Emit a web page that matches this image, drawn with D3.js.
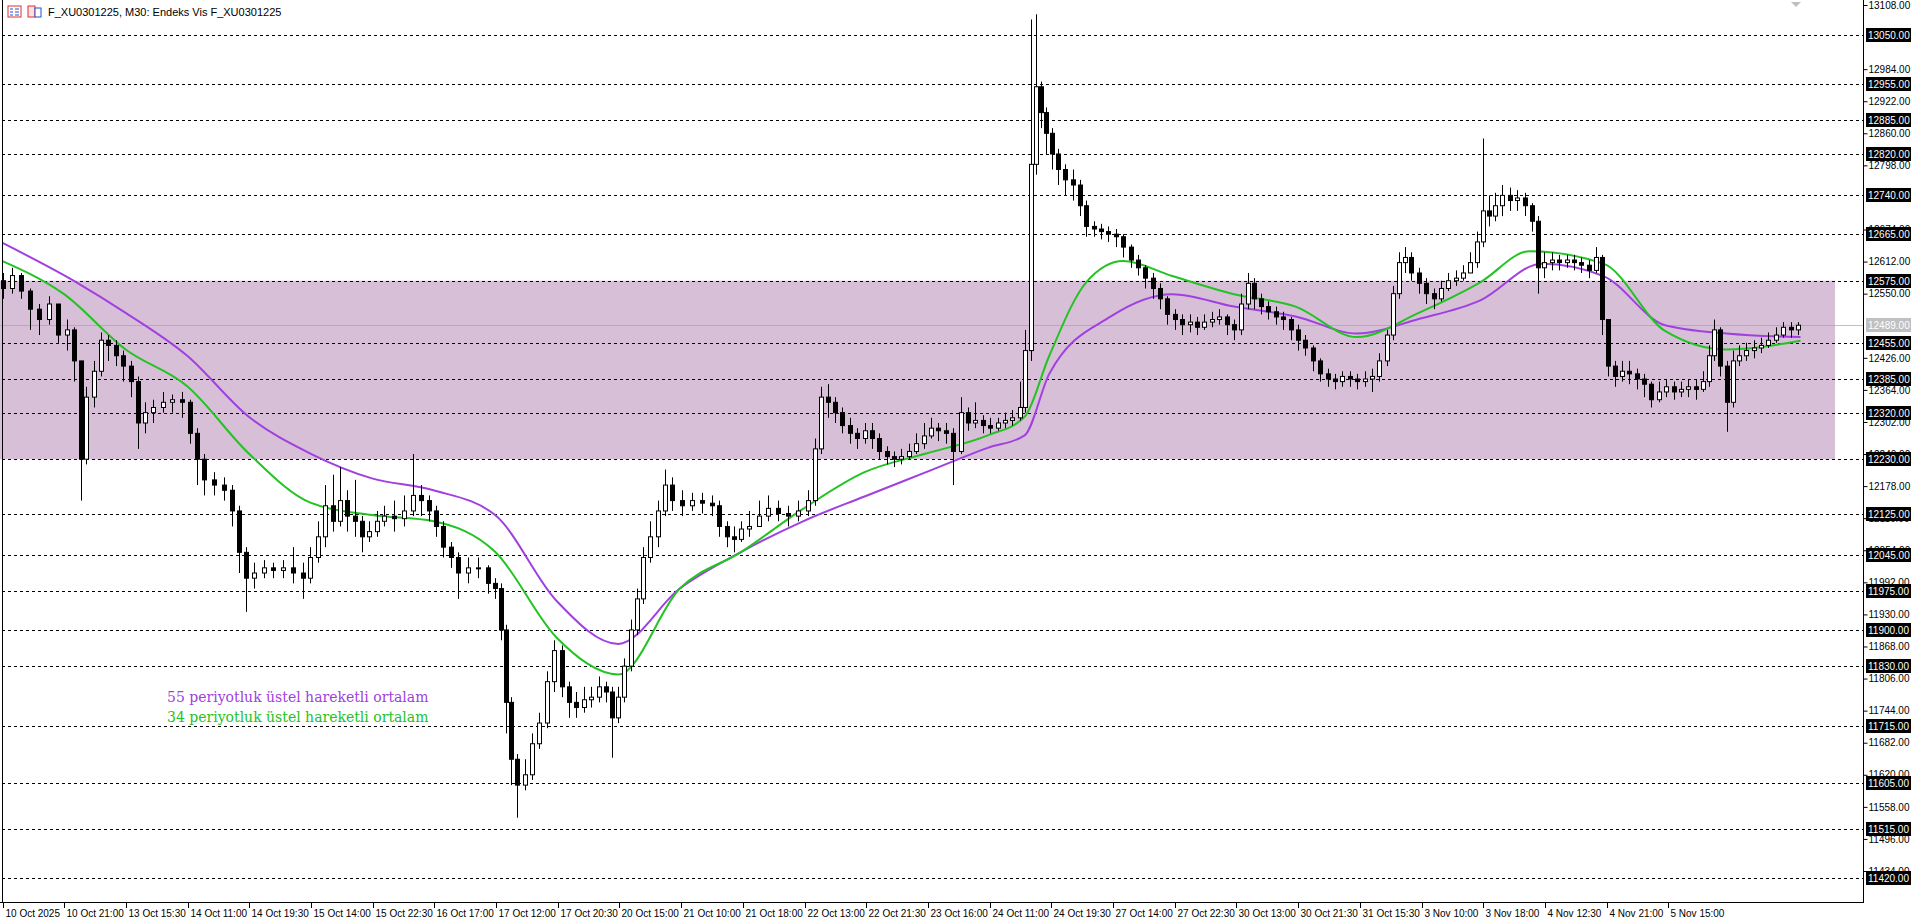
<!DOCTYPE html>
<html><head><meta charset="utf-8">
<script src="https://cdn.jsdelivr.net/npm/d3@7"></script>
<style>body{margin:0;background:#fff;overflow:hidden}svg{display:block}</style>
</head><body>
<script>
// bar time (arbitrary units, 50.1 units = 16 M30 bars)
const barTime=[0,8,15,22,30,38,45,52,58,64,68,74,80,86,92,98,104,110,116,122,130,138,146,152,158,164,172,180,186,192,198,204,212,220,228,236,244,250,256,262,268,274,280,286,292,298,304,310,318,326,333,340,346,352,358,364,370,378,386,394,400,405,409,413,418,424,430,436,442,448,454,460,466,472,478,484,490,495,500,505,510,515,520,526,532,538,544,552,560,568,576,582,588,594,600,606,614,622,630,638,646,654,660,665,670,676,682,688,694,700,706,712,718,724,730,736,742,748,754,760,766,772,778,784,790,796,802,808,814,820,826,830,835,839,843,847,852,857,863,869,875,880,886,892,898,904,910,916,922,928,934,940,946,952,958,964,970,976,982,988,994,1000,1006,1011,1016,1022,1028,1034,1040,1046,1052,1058,1064,1070,1076,1082,1088,1094,1100,1106,1112,1118,1124,1129,1134,1139,1144,1150,1156,1162,1168,1174,1180,1186,1192,1197,1202,1207,1212,1218,1224,1230,1236,1242,1247,1252,1258,1264,1270,1276,1282,1288,1294,1299,1304,1309,1315,1321,1327,1333,1339,1345,1351,1357,1363,1369,1375,1381,1386,1390,1395,1400,1405,1410,1416,1422,1428,1434,1440,1446,1452,1458];
const closes=[12560,12585,12555,12520,12500,12530,12470,12480,12420,12230,12350,12400,12460,12450,12430,12410,12380,12300,12320,12330,12340,12345,12340,12280,12230,12190,12180,12170,12130,12050,12000,12010,12020,12015,12020,12010,12000,12040,12080,12140,12110,12150,12120,12110,12080,12090,12110,12120,12115,12130,12160,12150,12130,12100,12060,12040,12010,12020,12020,11990,11980,11900,11760,11650,11600,11620,11680,11720,11800,11860,11790,11760,11750,11765,11770,11790,11780,11730,11770,11830,11900,11960,12040,12080,12130,12180,12150,12140,12150,12145,12140,12100,12080,12075,12095,12100,12120,12135,12125,12120,12130,12150,12250,12350,12340,12320,12295,12280,12270,12285,12270,12245,12235,12230,12235,12245,12260,12275,12290,12285,12280,12245,12320,12300,12305,12295,12290,12300,12305,12310,12330,12440,12800,12950,12900,12860,12820,12790,12770,12760,12720,12680,12675,12670,12665,12660,12640,12615,12600,12580,12560,12540,12510,12500,12490,12495,12485,12495,12500,12505,12490,12480,12530,12570,12540,12525,12515,12505,12500,12480,12460,12445,12420,12395,12385,12380,12390,12385,12380,12385,12390,12420,12470,12550,12610,12620,12590,12570,12550,12540,12560,12575,12580,12590,12610,12650,12710,12700,12720,12740,12730,12735,12720,12690,12600,12610,12615,12610,12615,12610,12605,12595,12620,12500,12410,12390,12400,12395,12385,12375,12345,12360,12370,12360,12365,12370,12365,12380,12430,12480,12410,12340,12420,12430,12440,12445,12450,12460,12470,12485,12480,12489];
const highs=[12590,12600,12590,12560,12530,12545,12530,12500,12485,12420,12370,12420,12475,12470,12460,12440,12420,12390,12340,12345,12360,12355,12360,12345,12290,12240,12205,12195,12180,12140,12060,12030,12035,12030,12035,12060,12030,12060,12110,12180,12200,12215,12170,12190,12120,12110,12130,12140,12150,12160,12240,12180,12160,12140,12110,12070,12050,12040,12040,12025,12000,11990,11910,11770,11660,11650,11700,11740,11820,11880,11870,11800,11780,11790,11790,11810,11800,11790,11790,11845,11920,11980,12060,12110,12150,12210,12195,12170,12165,12165,12160,12150,12110,12100,12110,12130,12150,12160,12150,12140,12150,12170,12270,12370,12375,12350,12330,12310,12290,12300,12300,12280,12255,12245,12250,12260,12280,12300,12310,12300,12300,12290,12350,12330,12340,12315,12310,12310,12320,12325,12380,12480,13080,13090,12960,12910,12870,12830,12800,12790,12770,12730,12690,12685,12680,12675,12665,12645,12625,12605,12590,12570,12545,12520,12510,12510,12505,12510,12515,12520,12510,12500,12550,12590,12580,12550,12535,12525,12515,12505,12490,12470,12450,12425,12405,12395,12400,12400,12395,12400,12405,12435,12480,12565,12630,12640,12630,12600,12580,12560,12575,12590,12595,12605,12630,12670,12850,12740,12745,12760,12755,12750,12745,12725,12700,12630,12630,12625,12625,12625,12620,12615,12640,12625,12500,12420,12420,12420,12405,12395,12380,12380,12385,12380,12380,12385,12385,12400,12450,12500,12485,12420,12440,12450,12455,12460,12465,12475,12485,12495,12495,12495];
const lows=[12540,12550,12540,12480,12470,12490,12455,12440,12380,12150,12220,12330,12390,12420,12410,12380,12350,12250,12280,12300,12320,12320,12310,12260,12180,12160,12160,12150,12100,12010,11935,11980,12000,12000,12000,11990,11960,11990,12030,12060,12090,12100,12090,12080,12050,12070,12080,12100,12090,12100,12120,12120,12110,12080,12040,12020,11960,11990,12000,11970,11960,11880,11700,11600,11537,11590,11610,11670,11710,11780,11770,11730,11730,11740,11750,11760,11760,11653,11720,11760,11820,11890,11950,12030,12060,12120,12130,12120,12130,12125,12120,12080,12060,12050,12070,12080,12100,12110,12110,12100,12110,12120,12140,12240,12310,12300,12280,12260,12250,12260,12250,12230,12220,12215,12220,12230,12240,12250,12270,12265,12260,12180,12240,12285,12290,12280,12280,12285,12290,12295,12305,12320,12420,12780,12870,12820,12790,12760,12740,12730,12700,12660,12660,12655,12650,12640,12620,12600,12585,12560,12540,12520,12490,12480,12470,12475,12470,12480,12485,12490,12470,12460,12470,12520,12520,12510,12500,12490,12480,12460,12440,12430,12400,12380,12370,12365,12370,12370,12365,12370,12360,12380,12410,12460,12540,12590,12575,12550,12530,12520,12535,12555,12565,12575,12590,12600,12640,12680,12690,12700,12710,12710,12700,12670,12550,12580,12595,12595,12600,12595,12590,12580,12590,12470,12390,12370,12380,12375,12365,12350,12330,12340,12350,12345,12350,12350,12345,12360,12370,12420,12390,12283,12330,12410,12420,12425,12435,12445,12455,12465,12465,12470];
const ema55X=[0,60,100,150,200,250,300,350,400,450,500,550,600,650,700,750,800,830,850,900,950,1000,1050,1100,1150,1200,1250,1300,1350,1400,1460];
const ema55=[12648,12572,12513,12430,12312,12241,12193,12170,12122,11956,11873,11980,12051,12110,12158,12205,12252,12276,12395,12506,12549,12525,12506,12473,12501,12537,12608,12584,12489,12473,12466];
const ema34X=[0,50,100,150,200,250,300,350,400,450,500,550,600,650,700,750,800,830,850,880,910,950,1000,1050,1100,1150,1200,1240,1300,1350,1400,1460];
const ema34=[12613,12549,12442,12371,12241,12146,12122,12110,12051,11885,11814,11980,12051,12134,12205,12241,12276,12312,12430,12572,12613,12584,12549,12525,12466,12513,12572,12632,12608,12478,12442,12459];
const levels=[13050,12955,12885,12820,12740,12665,12575,12455,12385,12320,12230,12125,12045,11975,11900,11830,11715,11605,11515,11420];
const axisTicks=[13108,12984,12922,12860,12798,12674,12612,12550,12426,12364,12302,12240,12178,12116,12054,11992,11930,11868,11806,11744,11682,11620,11558,11496,11434];
const currentPrice=12489;
const zone=[12230,12575];
const timeLabels=["10 Oct 2025","10 Oct 21:00","13 Oct 15:30","14 Oct 11:00","14 Oct 19:30","15 Oct 14:00","15 Oct 22:30","16 Oct 17:00","17 Oct 12:00","17 Oct 20:30","20 Oct 15:00","21 Oct 10:00","21 Oct 18:00","22 Oct 13:00","22 Oct 21:30","23 Oct 16:00","24 Oct 11:00","24 Oct 19:30","27 Oct 14:00","27 Oct 22:30","30 Oct 13:00","30 Oct 21:30","31 Oct 15:30","3 Nov 10:00","3 Nov 18:00","4 Nov 12:30","4 Nov 21:00","5 Nov 15:00"];
const labelStep=50.1;
const legend=["55 periyotluk üstel hareketli ortalam","34 periyotluk üstel hareketli ortalam"];

const W=1920,H=923,axisX=1863,bottomY=902;
const svg=d3.select("body").append("svg").attr("width",W).attr("height",H);
const x=d3.scaleLinear().domain([0,1458]).range([2.5,2.5+1458*1.2315]);
const y=d3.scaleLinear().domain([11434,13108]).range([871,5]);
const font="'Liberation Sans', Arial, sans-serif";

svg.append("rect").attr("x",0).attr("width",1835).attr("y",y(zone[1])).attr("height",y(zone[0])-y(zone[1])).attr("fill","#d8bfd8");
svg.selectAll(".lv").data(levels).join("line").attr("x1",2).attr("x2",axisX).attr("y1",d=>Math.round(y(d))+0.5).attr("y2",d=>Math.round(y(d))+0.5).attr("stroke","#000").attr("stroke-dasharray","3,3").attr("stroke-width",1);
const cy=Math.round(y(currentPrice))+0.5;
svg.append("line").attr("x1",0).attr("x2",axisX).attr("y1",cy).attr("y2",cy).attr("stroke","#c0c0c0");
svg.append("line").attr("x1",0).attr("x2",1835).attr("y1",cy).attr("y2",cy).attr("stroke","#ee82ee");

const line=d3.line().curve(d3.curveMonotoneX);
svg.append("path").attr("d",line(ema55X.map((t,i)=>[x(t),y(ema55[i])]))).attr("fill","none").attr("stroke","#a040e0").attr("stroke-width",2);
svg.append("path").attr("d",line(ema34X.map((t,i)=>[x(t),y(ema34[i])]))).attr("fill","none").attr("stroke","#22c322").attr("stroke-width",2);

const g=svg.append("g");
closes.forEach((c,i)=>{
  const o=i?closes[i-1]:12575;
  const cx=Math.round(x(barTime[i]))+0.5;
  g.append("line").attr("x1",cx).attr("x2",cx).attr("y1",y(highs[i])).attr("y2",y(lows[i])).attr("stroke","#000");
  const top=y(Math.max(o,c)),bot=y(Math.min(o,c));
  g.append("rect").attr("x",cx-2).attr("width",4).attr("y",top).attr("height",Math.max(1,bot-top))
   .attr("fill",c>=o?"#fff":"#000").attr("stroke","#000").attr("stroke-width",1);
});

svg.append("line").attr("x1",axisX+0.5).attr("x2",axisX+0.5).attr("y1",0).attr("y2",bottomY).attr("stroke","#000");
svg.append("line").attr("x1",0).attr("x2",axisX+1).attr("y1",bottomY+0.5).attr("y2",bottomY+0.5).attr("stroke","#000");
svg.append("line").attr("x1",2.5).attr("x2",2.5).attr("y1",0).attr("y2",bottomY).attr("stroke","#000");

const ya=svg.append("g").attr("transform",`translate(${axisX+0.5},0)`)
 .call(d3.axisRight(y).tickValues(axisTicks).tickSize(4).tickFormat(d3.format(".2f")));
ya.select(".domain").remove();
ya.selectAll("text").attr("font-family",font).attr("font-size",10).attr("fill","#000").attr("x",5);
ya.selectAll("line").attr("stroke","#000");
const lb=svg.selectAll(".lb").data(levels).join("g").attr("transform",d=>`translate(${axisX+3},${Math.round(y(d))})`);
lb.append("rect").attr("x",0).attr("y",-7).attr("width",45).attr("height",14).attr("fill","#000");
lb.append("text").text(d=>d3.format(".2f")(d)).attr("x",2).attr("y",4).attr("fill","#fff").attr("font-family",font).attr("font-size",10);
const cb=svg.append("g").attr("transform",`translate(${axisX+3},${Math.round(y(currentPrice))})`);
cb.append("rect").attr("y",-7).attr("width",45).attr("height",14).attr("fill","#c0c0c0");
cb.append("text").text(d3.format(".2f")(currentPrice)).attr("x",2).attr("y",4).attr("fill","#fff").attr("font-family",font).attr("font-size",10);

const xa=svg.append("g");
timeLabels.forEach((t,i)=>{
  const px=Math.round(x(i*labelStep))+0.5;
  xa.append("line").attr("x1",px).attr("x2",px).attr("y1",bottomY).attr("y2",bottomY+6).attr("stroke","#000");
  xa.append("text").text(t).attr("x",px+2).attr("y",917).attr("font-family",font).attr("font-size",10).attr("fill","#000");
});

svg.append("rect").attr("x",8).attr("y",6).attr("width",13).attr("height",11).attr("fill","#fff").attr("stroke","#e03030");
svg.append("path").attr("d","M10,9h3M10,12h3M10,15h3M15,9h4M15,12h4M15,15h4").attr("stroke","#2050d0");
svg.append("rect").attr("x",28).attr("y",6).attr("width",7).attr("height",11).attr("fill","#fde0e0").attr("stroke","#e03030");
svg.append("rect").attr("x",35).attr("y",8).attr("width",6).attr("height",9).attr("fill","#fff").attr("stroke","#2050d0");
svg.append("text").text("F_XU0301225, M30:  Endeks Vis F_XU0301225").attr("x",48).attr("y",16).attr("font-family",font).attr("font-size",11).attr("fill","#000");
svg.append("path").attr("d","M1791,2l5,5l5,-5z").attr("fill","#c0c0c0");

svg.append("text").text(legend[0]).attr("x",167).attr("y",702).attr("font-family","'DejaVu Serif', serif").attr("font-size",14).attr("fill","#a040e0");
svg.append("text").text(legend[1]).attr("x",167).attr("y",722).attr("font-family","'DejaVu Serif', serif").attr("font-size",14).attr("fill","#22c322");
</script>
</body></html>
